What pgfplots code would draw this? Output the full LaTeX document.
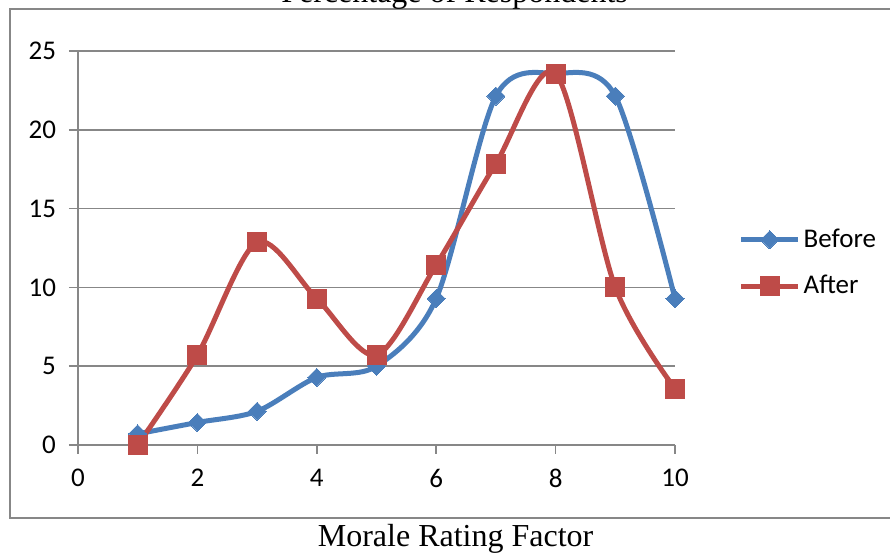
\documentclass[border=0pt]{standalone}
\usepackage{fontspec}
\setmainfont{Liberation Serif}
\newfontfamily\calibri{Carlito}
\usepackage{pgfplots}
\pgfplotsset{compat=1.18}
\definecolor{before}{HTML}{4A7EBB}
\definecolor{after}{HTML}{BE4B48}
\definecolor{gridgray}{HTML}{878787}

\begin{document}
\begin{tikzpicture}
  % chart area border and outer text
  \draw[gridgray, line width=1pt] (-34pt,218pt) rectangle (420pt,-36.5pt);
  \node[anchor=base, font=\fontsize{16}{19}\selectfont] at (188.3pt,221pt) {Percentage of Respondents};
  \node[anchor=base, font=\fontsize{16}{19}\selectfont] at (188.8pt,-51pt) {Morale Rating Factor};

  \begin{axis}[
      scale only axis,
      width=298.5pt, height=197pt,
      xmin=0, xmax=10, ymin=0, ymax=25,
      xtick={0,2,4,6,8,10},
      ytick={0,5,10,15,20,25},
      axis x line=bottom, axis y line=left,
      axis line style={-, draw=gridgray, line width=0.75pt},
      tick align=outside,
      major tick length=4.5pt,
      every tick/.style={draw=gridgray, line width=0.75pt},
      ymajorgrids,
      grid style={draw=gridgray, line width=0.75pt},
      /pgf/number format/assume math mode=true,
      ticklabel style={font=\calibri\fontsize{13.5}{16}\selectfont},
      yticklabel style={xshift=-3pt},
      xticklabel style={yshift=-4pt},
      legend cell align=left,
      legend style={draw=none, fill=none, at={(1.106,0.462)}, anchor=west,
        inner sep=0pt, row sep=8.5pt, nodes={inner xsep=1.5pt},
        font=\calibri\fontsize{13.5}{16}\selectfont},
      legend image code/.code={%
        \draw[mark repeat=2, mark phase=2, #1]
          plot coordinates {(0pt,0pt) (14.25pt,0pt) (28.5pt,0pt)};},
      clip=false,
    ]
    \addplot[before, line width=2.5pt, smooth, tension=0.5,
      mark=square*, mark size=3.2pt,
      mark options={rotate=45, solid, line width=0pt, fill=before}]
      coordinates {
        (1,0.71) (2,1.43) (3,2.14) (4,4.29) (5,5.00)
        (6,9.29) (7,22.14) (8,23.57) (9,22.14) (10,9.29)
      };
    \addlegendentry{Before}
    \addplot[after, line width=2.5pt, smooth, tension=0.5,
      mark=square*, mark size=4.75pt,
      mark options={solid, line width=0pt, fill=after}]
      coordinates {
        (1,0) (2,5.71) (3,12.86) (4,9.29) (5,5.71)
        (6,11.43) (7,17.86) (8,23.57) (9,10.00) (10,3.57)
      };
    \addlegendentry{After}
  \end{axis}
  \pgfresetboundingbox
  \path[use as bounding box] (-39pt,-55.5pt) rectangle (406pt,222.5pt);
\end{tikzpicture}
\end{document}
